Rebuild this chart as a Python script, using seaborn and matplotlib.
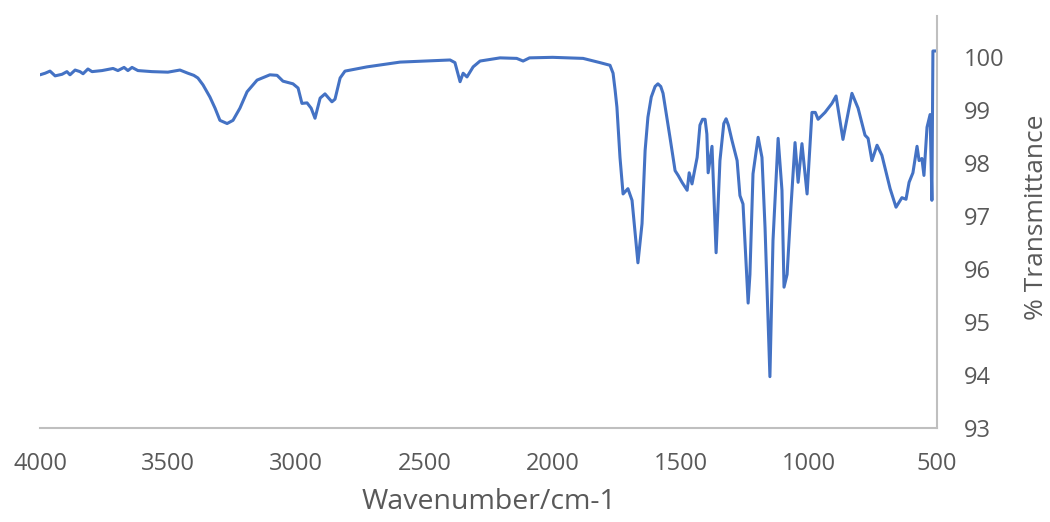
import pandas as pd
import seaborn as sns
import matplotlib.pyplot as plt

# FTIR spectrum
wavenumber = [4000, 3980, 3961, 3941, 3914, 3895, 3883, 3863, 3844, 3832, 3813, 3797,
              3758, 3715, 3696, 3672, 3657, 3641, 3618, 3563, 3501, 3454, 3423, 3400,
              3384, 3364, 3337, 3317, 3298, 3270, 3247, 3220, 3192, 3153, 3103, 3075,
              3052, 3013, 2993, 2978, 2958, 2942, 2927, 2907, 2888, 2861, 2849, 2829,
              2810, 2724, 2595, 2500, 2400, 2381, 2361, 2349, 2334, 2310, 2283, 2205,
              2140, 2115, 2090, 2000, 1881, 1815, 1776, 1764, 1756, 1749, 1737, 1725,
              1706, 1690, 1667, 1651, 1639, 1628, 1615, 1600, 1589, 1578, 1569, 1542,
              1522, 1510, 1495, 1475, 1467, 1456, 1436, 1425, 1415, 1405, 1398, 1393,
              1378, 1362, 1347, 1332, 1323, 1314, 1300, 1280, 1269, 1257, 1237, 1230,
              1218, 1198, 1183, 1171, 1152, 1140, 1120, 1105, 1097, 1085, 1070, 1054,
              1042, 1027, 1007, 988, 975, 964, 937, 910, 894, 867, 832, 808,
              781, 769, 754, 734, 715, 683, 660, 637, 621, 609, 594, 578,
              570, 559, 551, 539, 527, 520, 516, 500]
transmittance = [99.67, 99.70, 99.74, 99.65, 99.68, 99.73, 99.67, 99.76, 99.73, 99.69, 99.78, 99.73,
                 99.75, 99.79, 99.75, 99.81, 99.75, 99.81, 99.75, 99.73, 99.72, 99.76, 99.70, 99.66,
                 99.61, 99.48, 99.25, 99.04, 98.81, 98.75, 98.81, 99.04, 99.35, 99.57, 99.67, 99.66,
                 99.55, 99.50, 99.42, 99.13, 99.14, 99.04, 98.85, 99.23, 99.31, 99.16, 99.21, 99.61,
                 99.74, 99.82, 99.91, 99.93, 99.95, 99.90, 99.54, 99.70, 99.63, 99.82, 99.93, 99.99,
                 99.98, 99.93, 99.99, 100.00, 99.98, 99.90, 99.85, 99.70, 99.38, 99.06, 98.11, 97.42,
                 97.52, 97.30, 96.12, 96.86, 98.24, 98.87, 99.25, 99.45, 99.50, 99.45, 99.32, 98.49,
                 97.86, 97.77, 97.64, 97.49, 97.82, 97.61, 98.11, 98.72, 98.83, 98.83, 98.55, 97.82,
                 98.32, 96.31, 98.05, 98.75, 98.84, 98.72, 98.43, 98.05, 97.39, 97.23, 95.36, 95.90,
                 97.80, 98.49, 98.11, 96.78, 93.97, 96.54, 98.47, 97.49, 95.66, 95.90, 97.17, 98.39,
                 97.64, 98.37, 97.42, 98.96, 98.96, 98.83, 98.96, 99.13, 99.27, 98.45, 99.32, 99.04,
                 98.53, 98.47, 98.05, 98.34, 98.15, 97.52, 97.17, 97.35, 97.32, 97.64, 97.82, 98.32,
                 98.05, 98.09, 97.77, 98.68, 98.92, 97.30, 100.12, 100.12]

yticks = [93, 94, 95, 96, 97, 98, 99, 100]
xticks = [4000, 3500, 3000, 2500, 2000, 1500, 1000, 500]

df = pd.DataFrame({'wavenumber': wavenumber, 'transmittance': transmittance})

sns.set_style('white')
plt.rcParams['font.family'] = ['Open Sans', 'DejaVu Sans']

fig = plt.figure(figsize=(10.5, 5.22), dpi=100)
ax = fig.add_axes([0.0381, 0.180, 0.8543, 0.7893])

sns.lineplot(data=df, x='wavenumber', y='transmittance', sort=False,
             color='#4472C4', linewidth=2.2, ax=ax)

ax.set_xlim(4000, 500)
ax.set_ylim(93, 100.78)
ax.set_xticks(xticks)
ax.set_yticks(yticks)

ax.yaxis.tick_right()
ax.yaxis.set_label_position('right')
ax.tick_params(axis='both', length=0, labelsize=17, labelcolor='#595959')
ax.tick_params(axis='x', pad=17)
ax.tick_params(axis='y', pad=19)

for side in ['top', 'left']:
    ax.spines[side].set_visible(False)
for side in ['bottom', 'right']:
    ax.spines[side].set_color('#BFBFBF')
    ax.spines[side].set_linewidth(1.5)

ax.set_xlabel('Wavenumber/cm-1', fontsize=20.5, color='#595959')
ax.set_ylabel('% Transmittance', fontsize=19, color='#595959')
ax.xaxis.set_label_coords(0.5, -0.145)
ax.yaxis.set_label_coords(1.097, 0.512)

fig.savefig('out.png', dpi=100)
